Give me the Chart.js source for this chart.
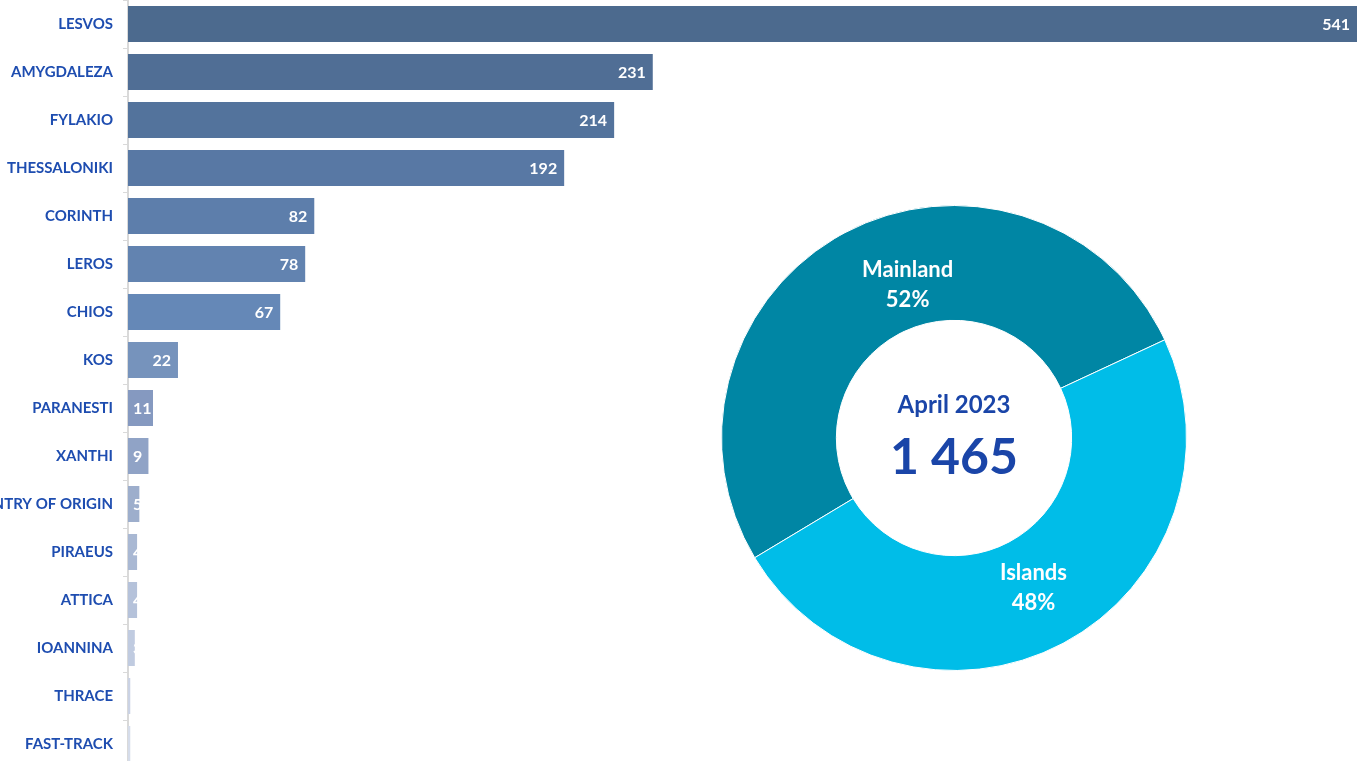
<!DOCTYPE html>
<html>
<head>
<meta charset="utf-8">
<script src="https://cdn.jsdelivr.net/npm/chart.js@4/dist/chart.umd.min.js"></script>
<style>
  html, body { margin: 0; padding: 0; background: #fff; }
  #wrap { position: relative; width: 1368px; height: 761px; overflow: hidden; }
  #bars { position: absolute; left: 0; top: 0; }
  #donut { position: absolute; left: 714px; top: 198px; }
</style>
</head>
<body>
<div id="wrap">
  <canvas id="bars" width="1368" height="768"></canvas>
  <canvas id="donut" width="480" height="480"></canvas>
</div>
<script>
const locations = ['LESVOS', 'AMYGDALEZA', 'FYLAKIO', 'THESSALONIKI', 'CORINTH', 'LEROS', 'CHIOS', 'KOS',
    'PARANESTI', 'XANTHI', 'COUNTRY OF ORIGIN', 'PIRAEUS', 'ATTICA', 'IOANNINA', 'THRACE', 'FAST-TRACK'];
const counts = [541, 231, 214, 192, 82, 78, 67, 22, 11, 9, 5, 4, 4, 3, 1, 1];
const barColors = ['#4c6a8e', '#506e95', '#53739c', '#5878a4', '#5d7eab', '#6283b0', '#6588b7', '#7693bc',
    '#8599c0', '#90a3c6', '#9daecc', '#a9b8d3', '#b5c2da', '#c0cbe0', '#cad2e4', '#d5dcea'];

const regions = ['Mainland', 'Islands'];
const regionCounts = [757, 708];
const regionPct = ['52%', '48%'];
const regionColors = ['#0086a4', '#00bde8'];
const periodLabel = 'April 2023';

Chart.defaults.font.family = 'Lato, "Open Sans", sans-serif';
Chart.defaults.animation = false;

const barLabels = {
    id: 'barLabels',
    afterDatasetsDraw(chart) {
        const ctx = chart.ctx;
        const meta = chart.getDatasetMeta(0);
        const left = chart.scales.x.getPixelForValue(0);
        ctx.save();
        ctx.font = 'bold 16px Lato, sans-serif';
        ctx.fillStyle = '#ffffff';
        ctx.textBaseline = 'middle';
        ctx.textAlign = 'left';
        meta.data.forEach((bar, i) => {
            const txt = String(counts[i]);
            const w = ctx.measureText(txt).width;
            const x = Math.max(bar.x - 7 - w, left + 5);
            ctx.fillText(txt, x, bar.y + 1);
        });
        ctx.restore();
    }
};

new Chart(document.getElementById('bars'), {
    type: 'bar',
    data: {
        labels: locations,
        datasets: [{
            data: counts,
            backgroundColor: barColors,
            borderWidth: 0,
            categoryPercentage: 0.75,
            barPercentage: 1
        }]
    },
    options: {
        indexAxis: 'y',
        responsive: false,
        events: [],
        layout: { padding: { left: 0, right: 11, top: 0, bottom: 0 } },
        scales: {
            x: {
                display: false,
                min: 0,
                max: 541
            },
            y: {
                afterFit(scale) {
                    scale.width = 128;
                    scale.paddingTop = 0;
                    scale.paddingBottom = 0;
                },
                grid: {
                    drawOnChartArea: false,
                    tickLength: 5,
                    color: '#d9d9d9'
                },
                border: { color: '#d9d9d9', width: 2 },
                ticks: {
                    padding: 10,
                    color: '#1e4db0',
                    font: { size: 15, weight: 'bold' }
                }
            }
        },
        plugins: {
            legend: { display: false },
            tooltip: { enabled: false }
        }
    },
    plugins: [barLabels]
});

// slice labels sit at a fraction of the arc's angle and ring depth
const labelAngleFrac = [0.56, 0.5];
const labelDepthFrac = [0.37, 0.45];

const donutText = {
    id: 'donutText',
    afterDatasetsDraw(chart) {
        const ctx = chart.ctx;
        const meta = chart.getDatasetMeta(0);
        ctx.save();
        ctx.textAlign = 'center';
        ctx.textBaseline = 'middle';
        meta.data.forEach((arc, i) => {
            const a = arc.startAngle + (arc.endAngle - arc.startAngle) * labelAngleFrac[i];
            const r = arc.innerRadius + (arc.outerRadius - arc.innerRadius) * labelDepthFrac[i];
            const x = arc.x + Math.cos(a) * r;
            const y = arc.y + Math.sin(a) * r;
            ctx.fillStyle = '#ffffff';
            ctx.font = 'bold 22px Lato, sans-serif';
            ctx.fillText(regions[i], x, y - 15);
            ctx.fillText(regionPct[i], x, y + 15);
        });
        const c = meta.data[0];
        const total = regionCounts.reduce((a, b) => a + b, 0);
        const totalTxt = String(total).replace(/\B(?=(\d{3})+(?!\d))/g, ' ');
        ctx.fillStyle = '#1a45a8';
        ctx.font = 'bold 24px Lato, sans-serif';
        ctx.fillText(periodLabel, c.x, c.y - 33);
        ctx.font = 'bold 50px Lato, sans-serif';
        ctx.fillText(totalTxt, c.x, c.y + 20);
        ctx.restore();
    }
};

new Chart(document.getElementById('donut'), {
    type: 'doughnut',
    data: {
        labels: regions,
        datasets: [{
            data: regionCounts,
            backgroundColor: regionColors,
            borderColor: '#ffffff',
            borderWidth: 1
        }]
    },
    options: {
        responsive: false,
        events: [],
        rotation: 239,
        cutout: '50.6%',
        layout: { padding: 7 },
        plugins: {
            legend: { display: false },
            tooltip: { enabled: false }
        }
    },
    plugins: [donutText]
});
</script>
</body>
</html>
